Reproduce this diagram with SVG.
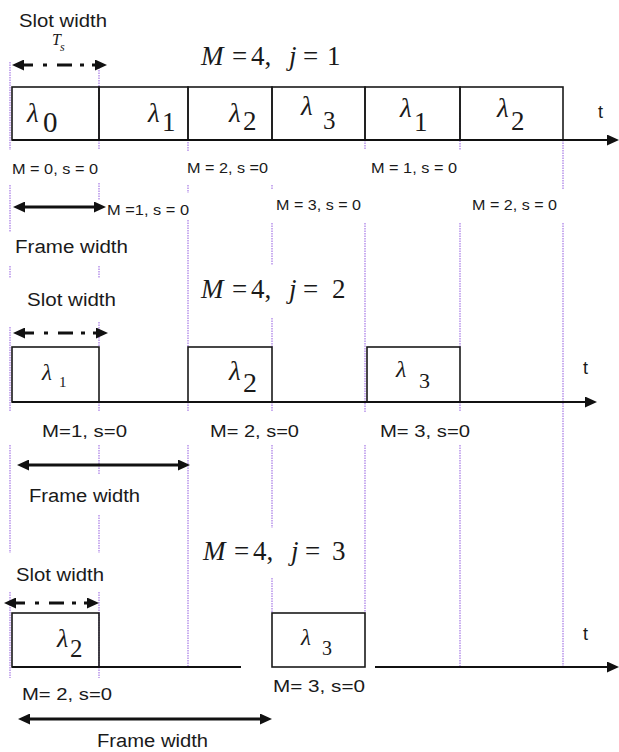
<svg xmlns="http://www.w3.org/2000/svg" width="619" height="752" viewBox="0 0 619 752">
<defs>
<marker id="ah" markerUnits="userSpaceOnUse" markerWidth="12" markerHeight="11" refX="6" refY="5.5" orient="auto-start-reverse" viewBox="0 0 12 11">
<path d="M0,0 L12,5.5 L0,11 z" fill="#111"/>
</marker>
<style>
.bg{fill:#fff}
.box{fill:none;stroke:#1a1a1a;stroke-width:1.6}
.grid{fill:none;stroke:#b28be8;stroke-width:1.4;stroke-dasharray:1.4 1.1}
.axis{fill:none;stroke:#111;stroke-width:2.2}
.slot{fill:none;stroke:#111;stroke-width:3;stroke-dasharray:15 10 4 10 15 8 4 8 14}
.frame{fill:none;stroke:#111;stroke-width:3}
.lab{font-family:"Liberation Sans",Arial,sans-serif;fill:#1a1a1a}
.math{font-family:"Liberation Serif","Times New Roman",serif;fill:#1a1a1a}
.it{font-style:italic}
</style>
</defs>
<rect class="bg" x="0" y="0" width="619" height="752"/>

<g id="gridlines">
<path class="grid" d="M10,62V150M10,185V232M10,266V278M10,327V412M10,445V553M10,592V678
M99,65V150M99,183V200M99,266V278M99,322V347M99,402V412M99,445V475M99,515V553M99,592V678
M188,142V152M188,185V193M188,220V347M188,402V412M188,445V667
M272,185V190M272,223V265M272,318V347M272,402V412M272,445V528M272,578V613
M365,140V150M365,223V412M365,445V613
M460,113V150M460,223V347M460,402V412M460,445V667
M563,140V190M563,223V667"/>
</g>

<!-- Row 1: M=4, j=1 -->
<g id="row1">
<g id="r1-title"><text class="math" font-size="27" y="65"><tspan x="201" class="it">M</tspan><tspan x="232">=</tspan><tspan x="251">4,</tspan><tspan x="289" class="it">j</tspan><tspan x="303">=</tspan><tspan x="327">1</tspan></text></g>
<g id="r1-slotlabel"><text class="lab" x="19" y="27" font-size="18.5" textLength="88" lengthAdjust="spacingAndGlyphs">Slot width</text>
<text class="math it" x="52" y="45" font-size="16">T</text><text class="math it" x="60" y="51" font-size="12">s</text></g>
<g id="r1-s1"><rect class="box" x="12" y="87" width="87" height="53"/><text class="math it" x="27" y="122" font-size="27">λ</text><text class="math" x="43" y="132" font-size="29">0</text></g>
<g id="r1-s2"><rect class="box" x="99" y="87" width="89" height="53"/><text class="math it" x="148" y="122" font-size="27">λ</text><text class="math" x="162" y="131" font-size="27">1</text></g>
<g id="r1-s3"><rect class="box" x="188" y="87" width="84" height="53"/><text class="math it" x="229" y="122" font-size="27">λ</text><text class="math" x="243" y="130" font-size="27">2</text></g>
<g id="r1-s4"><rect class="box" x="272" y="87" width="93" height="53"/><text class="math it" x="301" y="115" font-size="27">λ</text><text class="math" x="323" y="129" font-size="25">3</text></g>
<g id="r1-s5"><rect class="box" x="365" y="87" width="95" height="53"/><text class="math it" x="400" y="117" font-size="27">λ</text><text class="math" x="414" y="131" font-size="27">1</text></g>
<g id="r1-s6"><rect class="box" x="460" y="87" width="103" height="53"/><text class="math it" x="497" y="117" font-size="27">λ</text><text class="math" x="511" y="130" font-size="27">2</text></g>
<text class="lab" x="598" y="118" font-size="18">t</text>
<text class="lab" x="12" y="174" font-size="15.5" textLength="86" lengthAdjust="spacingAndGlyphs">M = 0, s = 0</text>
<text class="lab" x="187" y="173" font-size="15.5" textLength="81" lengthAdjust="spacingAndGlyphs">M = 2, s =0</text>
<text class="lab" x="371" y="173" font-size="15.5" textLength="86" lengthAdjust="spacingAndGlyphs">M = 1, s = 0</text>
<text class="lab" x="107" y="215" font-size="15.5" textLength="82" lengthAdjust="spacingAndGlyphs">M =1, s = 0</text>
<text class="lab" x="276" y="210" font-size="15.5" textLength="85" lengthAdjust="spacingAndGlyphs">M = 3, s = 0</text>
<text class="lab" x="472" y="210" font-size="15.5" textLength="85" lengthAdjust="spacingAndGlyphs">M = 2, s = 0</text>
<text class="lab" x="15" y="253" font-size="18" textLength="113" lengthAdjust="spacingAndGlyphs">Frame width</text>
</g>

<!-- Row 2: M=4, j=2 -->
<g id="row2">
<g id="r2-title"><text class="math" font-size="27" y="298"><tspan x="201" class="it">M</tspan><tspan x="232">=</tspan><tspan x="251">4,</tspan><tspan x="289" class="it">j</tspan><tspan x="303">=</tspan><tspan x="332">2</tspan></text></g>
<text class="lab" x="27" y="306" font-size="18.5" textLength="89" lengthAdjust="spacingAndGlyphs">Slot width</text>
<g id="r2-s1"><rect class="box" x="12" y="347" width="87" height="55"/><text class="math it" x="42" y="380" font-size="23">λ</text><text class="math" x="59" y="387" font-size="15">1</text></g>
<g id="r2-s2"><rect class="box" x="188" y="347" width="84" height="55"/><text class="math it" x="229" y="380" font-size="27">λ</text><text class="math" x="243" y="392" font-size="28">2</text></g>
<g id="r2-s3"><rect class="box" x="367" y="347" width="93" height="55"/><text class="math it" x="396" y="377" font-size="24">λ</text><text class="math" x="419" y="388" font-size="22">3</text></g>
<text class="lab" x="583" y="374" font-size="18">t</text>
<text class="lab" x="42" y="437" font-size="17" textLength="85" lengthAdjust="spacingAndGlyphs">M=1, s=0</text>
<text class="lab" x="210" y="437" font-size="17" textLength="89" lengthAdjust="spacingAndGlyphs">M= 2, s=0</text>
<text class="lab" x="380" y="437" font-size="17" textLength="90" lengthAdjust="spacingAndGlyphs">M= 3, s=0</text>
<text class="lab" x="29" y="502" font-size="18" textLength="111" lengthAdjust="spacingAndGlyphs">Frame width</text>
</g>

<!-- Row 3: M=4, j=3 -->
<g id="row3">
<g id="r3-title"><text class="math" font-size="27" y="560"><tspan x="203" class="it">M</tspan><tspan x="234">=</tspan><tspan x="253">4,</tspan><tspan x="291" class="it">j</tspan><tspan x="305">=</tspan><tspan x="332">3</tspan></text></g>
<text class="lab" x="16" y="581" font-size="18.5" textLength="88" lengthAdjust="spacingAndGlyphs">Slot width</text>
<g id="r3-s1"><rect class="box" x="12" y="613" width="87" height="54"/><text class="math it" x="57" y="647" font-size="26">λ</text><text class="math" x="70" y="657" font-size="25">2</text></g>
<g id="r3-s2"><rect class="box" x="272" y="613" width="93" height="54"/><text class="math it" x="301" y="645" font-size="23">λ</text><text class="math" x="322" y="655" font-size="20">3</text></g>
<text class="lab" x="583" y="640" font-size="18">t</text>
<text class="lab" x="22" y="700" font-size="17" textLength="90" lengthAdjust="spacingAndGlyphs">M= 2, s=0</text>
<text class="lab" x="273" y="692" font-size="17" textLength="92" lengthAdjust="spacingAndGlyphs">M= 3, s=0</text>
<text class="lab" x="97" y="747" font-size="18" textLength="111" lengthAdjust="spacingAndGlyphs">Frame width</text>
</g>

<g id="connectors">
<line class="axis" x1="12" y1="140" x2="613" y2="140" marker-end="url(#ah)"/>
<line class="axis" x1="12" y1="402" x2="591" y2="402" marker-end="url(#ah)"/>
<line class="axis" x1="12" y1="667" x2="241" y2="667"/>
<line class="axis" x1="375" y1="667" x2="613" y2="667" marker-end="url(#ah)"/>
<line class="slot" x1="18" y1="65" x2="101" y2="65" marker-start="url(#ah)" marker-end="url(#ah)"/>
<line class="slot" x1="19" y1="333" x2="102" y2="333" marker-start="url(#ah)" marker-end="url(#ah)"/>
<line class="slot" x1="10" y1="603" x2="93" y2="603" marker-start="url(#ah)" marker-end="url(#ah)"/>
<line class="frame" x1="19" y1="207" x2="100" y2="207" marker-start="url(#ah)" marker-end="url(#ah)"/>
<line class="frame" x1="23" y1="465" x2="184" y2="465" marker-start="url(#ah)" marker-end="url(#ah)"/>
<line class="frame" x1="24" y1="719" x2="266" y2="719" marker-start="url(#ah)" marker-end="url(#ah)"/>
</g>
</svg>
